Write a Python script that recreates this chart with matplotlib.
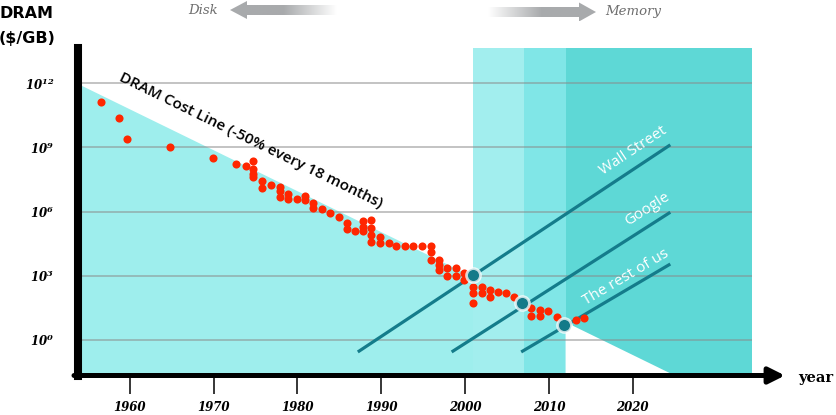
import numpy as np
import matplotlib
matplotlib.use("Agg")
import matplotlib.pyplot as plt
from matplotlib.patches import Polygon
from matplotlib.colors import LinearSegmentedColormap
from matplotlib.ticker import NullLocator

plt.rcParams['mathtext.fontset'] = 'custom'
plt.rcParams['mathtext.rm'] = 'DejaVu Serif:style=italic:weight=bold'
plt.rcParams['mathtext.it'] = 'DejaVu Serif:style=italic:weight=bold'
plt.rcParams['mathtext.bf'] = 'DejaVu Serif:style=italic:weight=bold'

# DRAM price points, log10($/GB)
dram_years = [1956.5, 1958.7, 1959.7, 1964.8, 1969.9, 1972.7, 1973.8,
              1974.7, 1974.7, 1974.7, 1974.7, 1975.8, 1975.8, 1976.8,
              1977.9, 1977.9, 1977.9, 1978.9, 1978.9, 1979.9, 1980.9, 1980.9,
              1981.9, 1981.9, 1982.9, 1983.9, 1984.9, 1985.9, 1985.9, 1986.9,
              1987.8, 1987.8, 1987.8, 1988.8, 1988.8, 1988.8, 1988.8,
              1989.9, 1989.9, 1990.9, 1991.8, 1992.8, 1993.8, 1994.9,
              1995.9, 1995.9, 1995.9, 1996.9, 1996.9, 1996.9, 1997.9, 1997.9,
              1998.9, 1998.9, 1999.9, 1999.9, 2001.0, 2001.0, 2001.0,
              2002.0, 2002.0, 2003.0, 2003.0, 2003.9, 2004.9, 2005.8,
              2007.9, 2007.9, 2008.9, 2008.9, 2009.9, 2011.0, 2013.2, 2014.2]
dram_log = [11.14, 10.39, 9.38, 9.0, 8.52, 8.23, 8.15,
            8.37, 8.0, 7.75, 7.6, 7.45, 7.09, 7.24,
            7.17, 6.95, 6.7, 6.83, 6.58, 6.58, 6.73, 6.55,
            6.39, 6.16, 6.12, 5.95, 5.77, 5.45, 5.2, 5.1,
            5.55, 5.3, 5.1, 5.6, 5.22, 4.91, 4.6,
            4.83, 4.52, 4.52, 4.39, 4.39, 4.39, 4.39,
            4.39, 4.13, 3.72, 3.74, 3.51, 3.27, 3.35, 2.99,
            3.35, 2.99, 3.12, 2.8, 2.49, 2.18, 1.71,
            2.49, 2.18, 2.34, 2.02, 2.26, 2.18, 2.02,
            1.48, 1.12, 1.4, 1.12, 1.37, 1.09, 0.93, 1.01]

# crossing points
cross_years = [2001.0, 2006.8, 2011.8]
cross_log = [3.04, 1.74, 0.70]

# DRAM cost line (-50% every 18 months)
cost_years = [1954.3, 2024.4]
cost_log = [11.87, -1.54]

# demand lines
demand = {
    'Wall Street': ([1987.2, 2024.5], [-0.56, 9.12], (2020.1, 8.85), 33.5),
    'Google': ([1998.4, 2024.5], [-0.56, 5.97], (2021.8, 6.1), 32.5),
    'The rest of us': ([2006.7, 2024.5], [-0.56, 3.55], (2019.2, 2.92), 30.6),
}

# shaded eras
eras = [(2001, 2007, '#a2eeee'), (2007, 2012, '#80e6e7'), (2012, 2034.2, '#5ed8d6')]

xticks = [1960, 1970, 1980, 1990, 2000, 2010, 2020]
ytick_exp = [0, 3, 6, 9, 12]

xlim = (1953.8, 2036.4)
ylog = (-1.66, 13.67)

fig = plt.figure(figsize=(8.37, 4.15), dpi=100)
ax = fig.add_axes([78 / 837, (415 - 375.5) / 415, (770 - 78) / 837, 328 / 415])
ax.set_yscale('log')
ax.set_xlim(*xlim)
ax.set_ylim(10 ** ylog[0], 10 ** ylog[1])

ymin = 10 ** ylog[0]
slope = (cost_log[1] - cost_log[0]) / (cost_years[1] - cost_years[0])
c2012 = cost_log[0] + (2012 - cost_years[0]) * slope
c_left = cost_log[0] + (xlim[0] - cost_years[0]) * slope
x_bottom = cost_years[0] + (ylog[0] - cost_log[0]) / slope

ax.add_patch(Polygon([(xlim[0], 10 ** c_left), (2012, 10 ** c2012), (2012, ymin), (xlim[0], ymin)],
                     closed=True, fc='#9eeeed', ec='none', zorder=1))
for x0, x1, col in eras:
    ax.axvspan(x0, x1, color=col, lw=0, zorder=1.1)
ax.add_patch(Polygon([(2012, 10 ** c2012), (x_bottom, ymin), (2012, ymin)],
                     closed=True, fc='white', ec='none', zorder=1.2))

ax.hlines([10.0 ** e for e in ytick_exp], xlim[0], 2034.2, color='#8a8a8a', alpha=0.55, lw=1.3, zorder=2)

for name, (xs, ls, (tx, tl), rot) in demand.items():
    ax.plot(xs, [10 ** v for v in ls], color='#147c8b', lw=2.3, solid_capstyle='butt', zorder=3)
    ax.text(tx, 10 ** tl, name, rotation=rot, ha='center', va='center', color='white',
            fontsize=11, family='Open Sans', zorder=6)

ax.scatter(dram_years, [10 ** v for v in dram_log], s=34, color='#ff2600', lw=0, zorder=4)
ax.plot(cross_years, [10 ** v for v in cross_log], 'o', ms=10, mfc='#137a89',
        mec=(1, 1, 1, 0.75), mew=2, ls='none', zorder=5)

ax.text(1974.4, 10 ** 9.30, 'DRAM Cost Line (-50% every 18 months)', rotation=-26,
        ha='center', va='center', fontsize=11, family='Open Sans', weight='semibold', zorder=6)

for s in ['top', 'right', 'bottom']:
    ax.spines[s].set_visible(False)
ax.spines['left'].set_linewidth(5.8)
ax.spines['left'].set_color('black')
ax.patch.set_alpha(0)

ax.set_xticks(xticks)
ax.set_xticklabels([str(t) for t in xticks], family='DejaVu Serif', style='italic',
                   weight='bold', fontsize=8.5)
ax.tick_params(axis='x', length=13, width=1.1, pad=5, color='black')
ax.set_yticks([10.0 ** e for e in ytick_exp])
ax.set_yticklabels([r'$10^{%d}$' % e for e in ytick_exp], fontsize=8.5)
ax.tick_params(axis='y', length=0, pad=17)
ax.yaxis.set_minor_locator(NullLocator())

# overlay in pixel coordinates for decoration
ov = fig.add_axes([0, 0, 1, 1], zorder=10)
ov.set_xlim(0, 837)
ov.set_ylim(415, 0)
ov.axis('off')

ov.annotate('', xy=(785, 375.5), xytext=(74, 375.5),
            arrowprops=dict(arrowstyle='-|>', lw=3.6, color='black', mutation_scale=24,
                            shrinkA=0, shrinkB=0))

cmap = LinearSegmentedColormap.from_list('fade', ['white', '#a8aaac'])


def grad_arrow(x_tail, x_tip, yc, body_h, head_h, head_len):
    d = 1 if x_tip > x_tail else -1
    xb = x_tip - d * head_len
    verts = [(x_tail, yc - body_h / 2), (xb, yc - body_h / 2), (xb, yc - head_h / 2), (x_tip, yc),
             (xb, yc + head_h / 2), (xb, yc + body_h / 2), (x_tail, yc + body_h / 2)]
    poly = Polygon(verts, closed=True, fc='none', ec='none')
    ov.add_patch(poly)
    t = np.clip(np.linspace(0, 1, 300) / 0.5, 0, 1)
    if d < 0:
        t = t[::-1]
    im = ov.imshow(t[None, :], extent=(min(x_tail, x_tip), max(x_tail, x_tip), yc + head_h / 2, yc - head_h / 2),
                   cmap=cmap, vmin=0, vmax=1, aspect='auto', interpolation='bilinear')
    im.set_clip_path(poly)


grad_arrow(337, 230, 10, 10, 18, 17)
grad_arrow(488, 596, 12, 10, 19, 17)
ov.set_xlim(0, 837)
ov.set_ylim(415, 0)

ov.text(203, 10, 'Disk', ha='center', va='center', family='DejaVu Serif', style='italic',
        fontsize=9.5, color='#6e6e6e')
ov.text(633, 11, 'Memory', ha='center', va='center', family='DejaVu Serif', style='italic',
        fontsize=9.5, color='#6e6e6e')
ov.text(27, 14, 'DRAM', ha='center', va='center', fontsize=11.5, weight='bold', family='DejaVu Sans')
ov.text(27, 39, '($/GB)', ha='center', va='center', fontsize=11.5, weight='bold', family='DejaVu Sans')
ov.text(816, 378, 'year', ha='center', va='center', fontsize=10.5, weight='bold', family='DejaVu Serif')

fig.savefig('out.png', dpi=100)
